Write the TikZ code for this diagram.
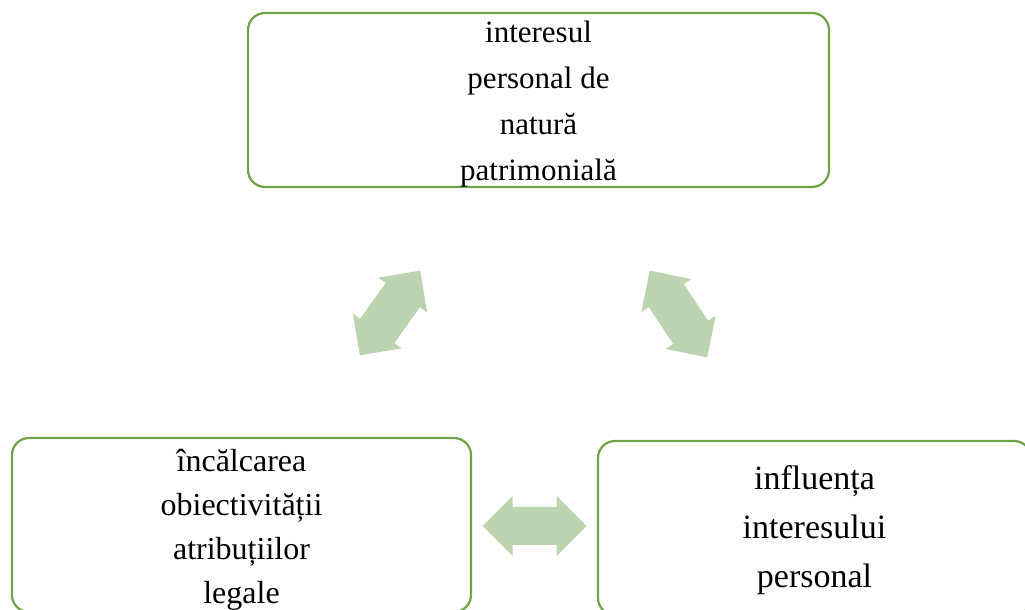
\documentclass[tikz,border=0pt]{standalone}
\usepackage{fontspec}
\setmainfont{Liberation Serif}
\definecolor{boxgreen}{RGB}{112,162,72}
\definecolor{arrowgreen}{RGB}{189,212,177}
\tikzset{
  box/.style={draw=boxgreen, line width=2.2pt, rounded corners=17pt, fill=white,
    inner sep=0pt},
  boxtext/.style={align=center, inner sep=0pt},
  txtA/.style={font=\fontsize{31}{46}\selectfont},
  txtB/.style={font=\fontsize{32}{44}\selectfont},
  txtC/.style={font=\fontsize{34}{49}\selectfont},
  pics/dblarrow/.style={code={
    \fill[arrowgreen] (-52,0) -- (-22,30) -- (-22,#1) -- (22,#1) -- (22,30) -- (52,0)
      -- (22,-30) -- (22,-#1) -- (-22,-#1) -- (-22,-30) -- cycle;
  }}
}
\begin{document}
\begin{tikzpicture}[x=1pt,y=1pt]
\useasboundingbox (0,0) rectangle (1025,610);
\node[box, minimum width=581pt, minimum height=174pt] (top) at (538.5,510) {};
\node[boxtext, txtA, yshift=-4pt] (topT) at (top.center)
  {interesul\\personal de\\natură\\patrimonială};
\node[box, minimum width=459pt, minimum height=174pt] (left) at (241.5,85) {};
\node[boxtext, txtB, yshift=-5pt] (leftT) at (left.center)
  {încălcarea\\obiectivității\\atribuțiilor\\legale};
\node[box, minimum width=433pt, minimum height=174pt] (right) at (814.5,82) {};
\node[boxtext, txtC, yshift=-2.5pt] (rightT) at (right.center)
  {influența\\interesului\\personal};
\coordinate (a1) at (390,297);
\coordinate (a2) at (678.5,296);
\coordinate (a3) at (534.5,84);
\pic[rotate=54.5] at (a1) {dblarrow=21};
\pic[rotate=-56.5] at (a2) {dblarrow=21};
\pic at (a3) {dblarrow=19};
\end{tikzpicture}
\end{document}
